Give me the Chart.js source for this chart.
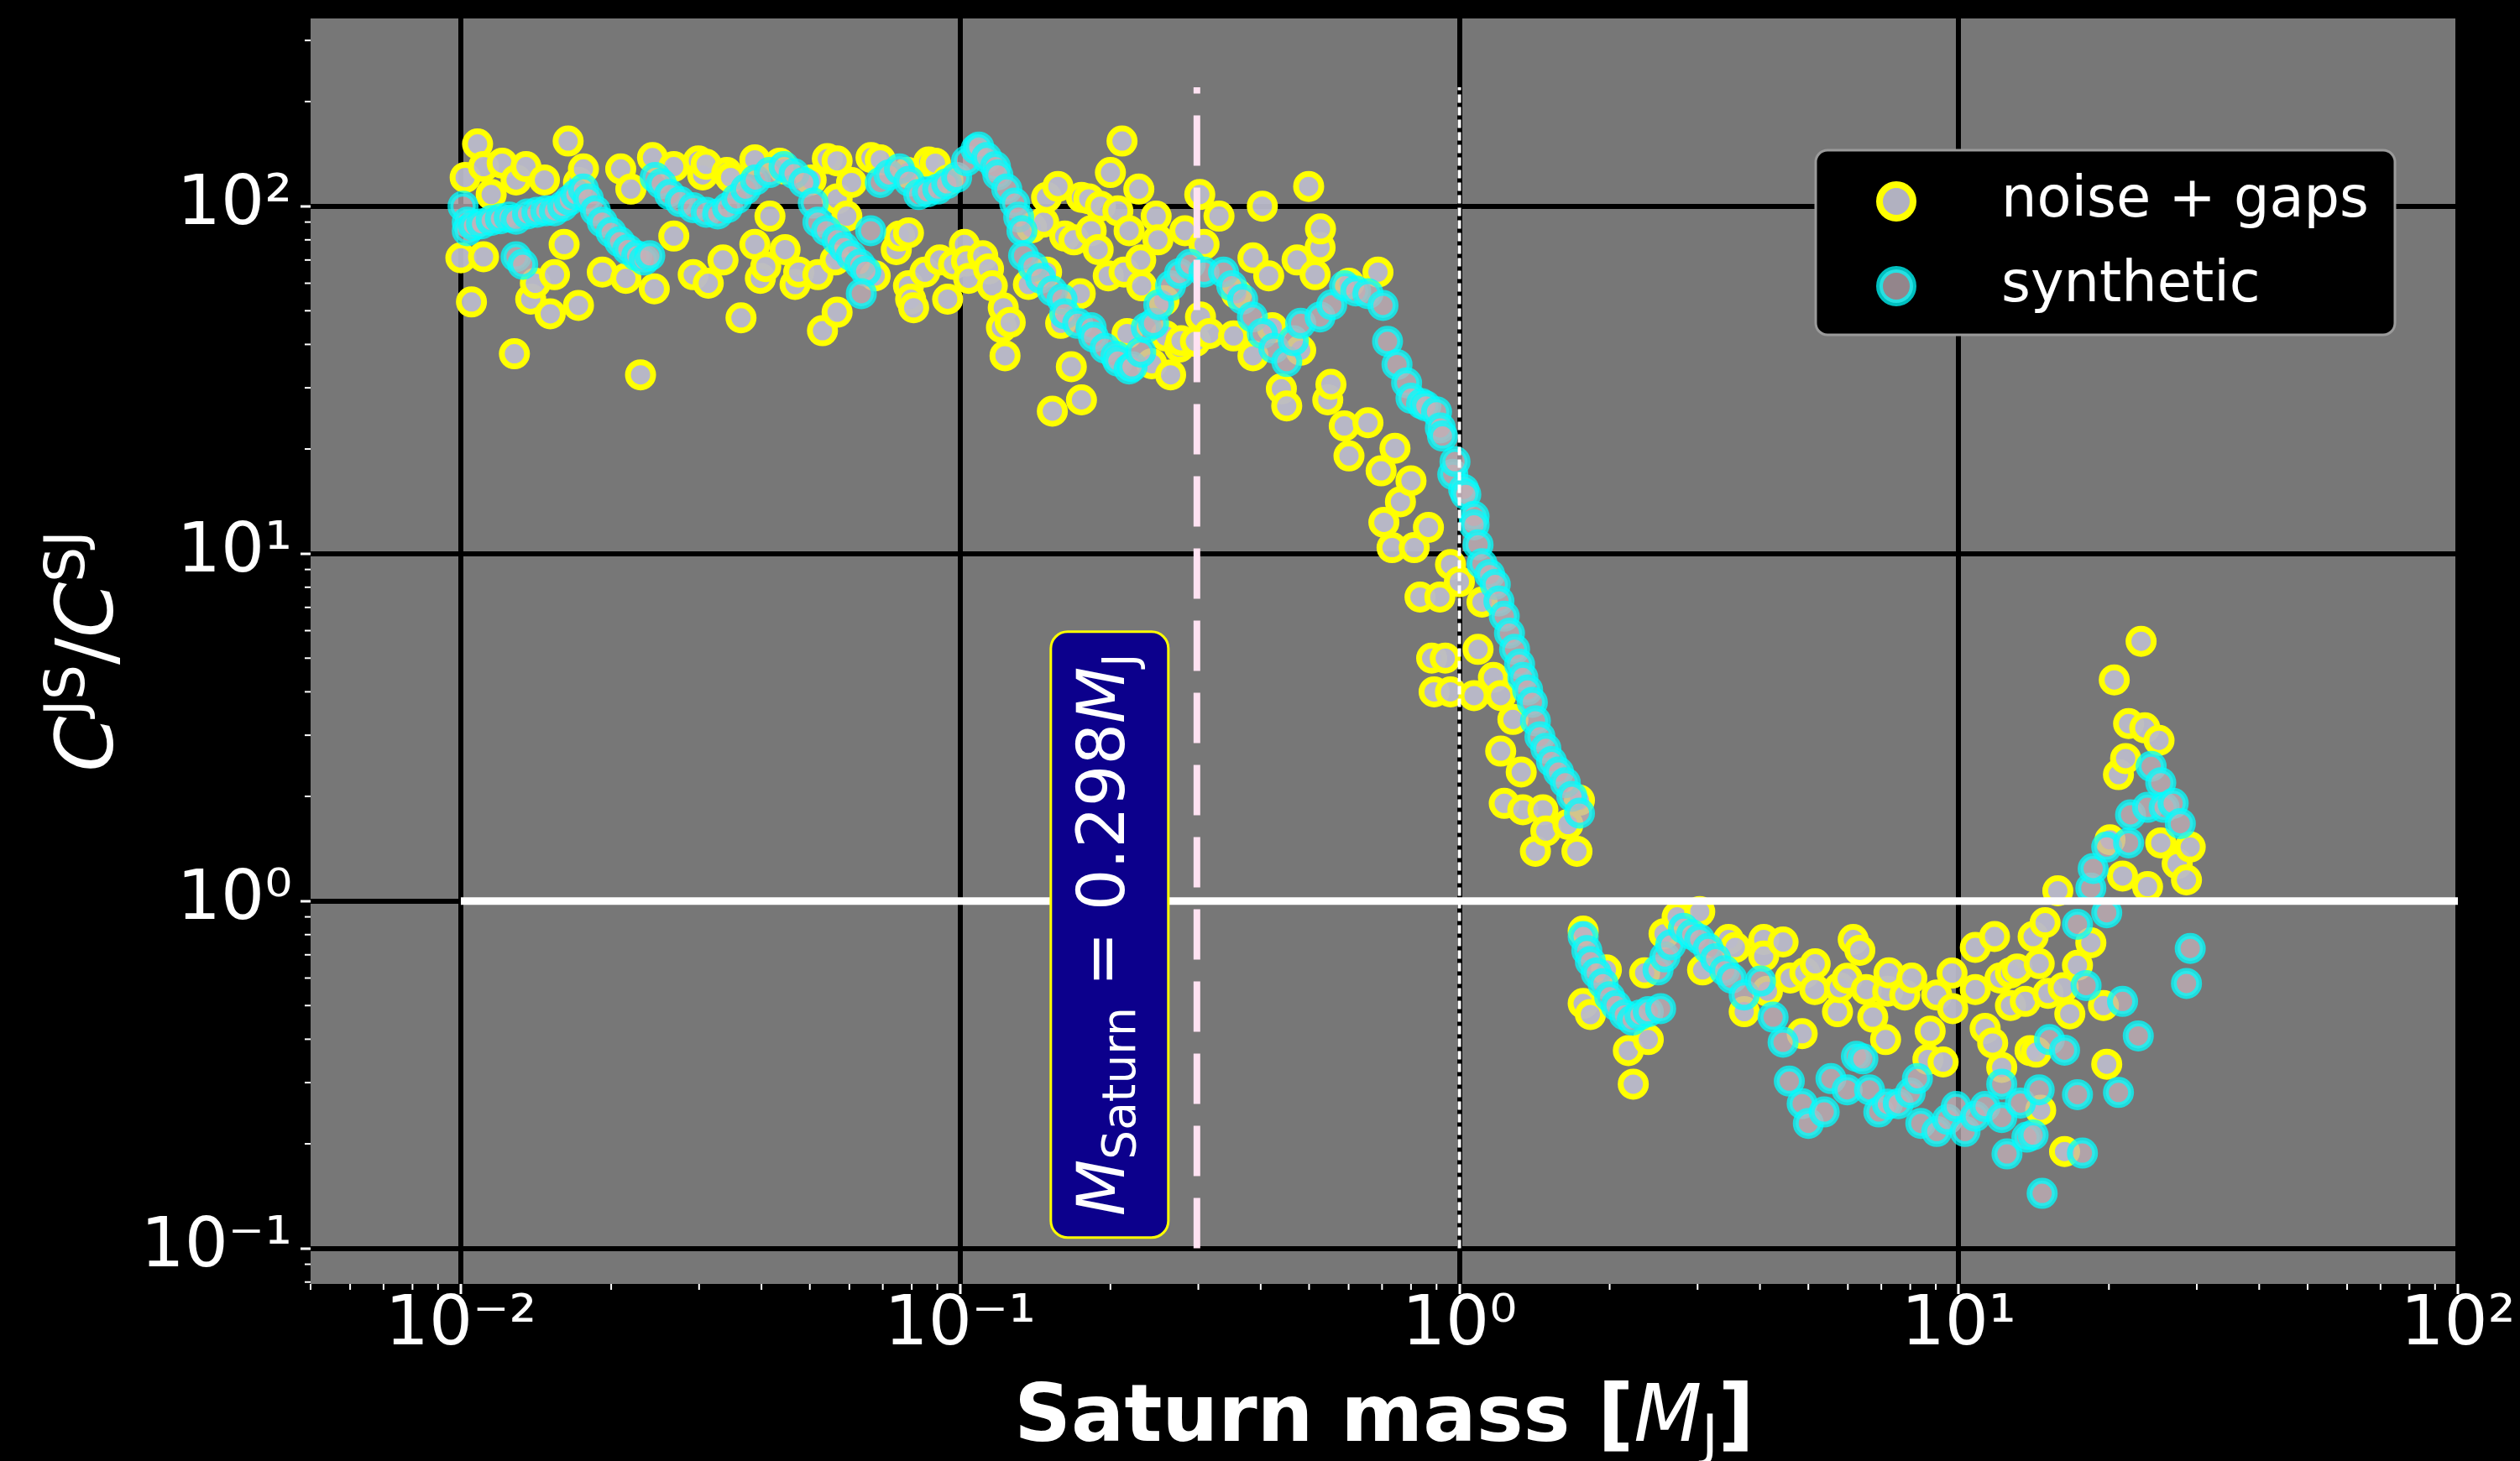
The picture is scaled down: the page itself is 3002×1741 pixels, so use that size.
<!DOCTYPE html>
<html>
<head>
<meta charset="utf-8">
<title>C^JS / C^SJ vs Saturn mass</title>
<script src="https://cdn.jsdelivr.net/npm/chart.js@4.4.0/dist/chart.umd.min.js"></script>
<style>
  html, body { margin: 0; padding: 0; background: #000; }
  #wrap { width: 3002px; height: 1741px; position: relative; }
</style>
</head>
<body>
<div id="wrap"><canvas id="ratioChart"></canvas></div>
<script>
// noise + gaps: Saturn mass [M_J] and C^JS/C^SJ
const noiseMass = [
  0.0100, 0.0102, 0.0105, 0.0108, 0.0111, 0.0111, 0.0115, 0.0121, 0.0128, 0.0129,
  0.0135, 0.0138, 0.0141, 0.0147, 0.0151, 0.0154, 0.0161, 0.0164, 0.0172, 0.0172,
  0.0176, 0.0192, 0.0209, 0.0214, 0.0219, 0.0229, 0.0242, 0.0244, 0.0267, 0.0267,
  0.0292, 0.0299, 0.0305, 0.0310, 0.0313, 0.0335, 0.0341, 0.0347, 0.0364, 0.0388,
  0.0388, 0.0398, 0.0408, 0.0416, 0.0435, 0.0444, 0.0446, 0.0467, 0.0475, 0.0503,
  0.0519, 0.0530, 0.0542, 0.0562, 0.0567, 0.0567, 0.0567, 0.0593, 0.0606, 0.0663,
  0.0676, 0.0692, 0.0745, 0.0756, 0.0785, 0.0788, 0.0788, 0.0796, 0.0807, 0.0850,
  0.0865, 0.0892, 0.0910, 0.0944, 0.0945, 0.0970, 0.102, 0.103, 0.104, 0.111,
  0.114, 0.116, 0.121, 0.122, 0.123, 0.126, 0.137, 0.139, 0.147, 0.149,
  0.149, 0.153, 0.157, 0.159, 0.162, 0.167, 0.169, 0.174, 0.175, 0.175,
  0.181, 0.183, 0.189, 0.191, 0.198, 0.200, 0.207, 0.211, 0.213, 0.216,
  0.218, 0.228, 0.230, 0.231, 0.242, 0.247, 0.249, 0.256, 0.258, 0.264,
  0.275, 0.277, 0.282, 0.296, 0.302, 0.303, 0.308, 0.316, 0.330, 0.353,
  0.358, 0.386, 0.386, 0.403, 0.415, 0.422, 0.440, 0.451, 0.473, 0.481,
  0.499, 0.514, 0.526, 0.527, 0.545, 0.553, 0.588, 0.601, 0.601, 0.656,
  0.687, 0.697, 0.706, 0.733, 0.743, 0.762, 0.800, 0.812, 0.834, 0.867,
  0.880, 0.890, 0.914, 0.937, 0.960, 0.960, 1.00, 1.07, 1.09, 1.11,
  1.17, 1.21, 1.21, 1.23, 1.28, 1.33, 1.34, 1.42, 1.47, 1.49,
  1.65, 1.72, 1.74, 1.77, 1.77, 1.83, 1.97, 2.18, 2.23, 2.35,
  2.39, 2.57, 2.73, 3.03, 3.07, 3.46, 3.57, 3.72, 4.07, 4.07,
  4.14, 4.45, 4.60, 4.86, 4.92, 5.15, 5.16, 5.72, 5.77, 5.98,
  6.15, 6.34, 6.53, 6.73, 7.14, 7.21, 7.25, 7.80, 8.06, 8.68,
  8.77, 9.04, 9.31, 9.70, 9.73, 10.8, 10.8, 11.3, 11.7, 11.8,
  12.1, 12.2, 12.7, 12.7, 13.1, 13.6, 13.9, 14.1, 14.3, 14.5,
  14.6, 14.9, 15.1, 15.8, 16.2, 16.3, 16.7, 17.3, 18.4, 19.5,
  19.8, 20.1, 20.5, 20.9, 21.3, 21.6, 21.9, 23.2, 23.6, 23.9, 25.2, 25.4, 27.4, 28.6, 29.1
];
const noiseRatio = [
  71, 121, 53, 151, 130, 71.5, 108, 133, 37.6, 119,
  130, 54, 60, 119, 49, 63.5, 77.6, 154, 117, 51.8,
  128, 64.6, 128, 62, 112, 32.7, 138, 57.8, 130, 82,
  63.5, 135, 123, 132, 60, 70, 125, 121, 47.7, 136,
  77.6, 62, 67, 93.6, 133, 128, 75, 59.5, 64.6, 119,
  63.5, 43.8, 137, 70, 135, 105, 49.5, 93.6, 117, 138,
  63, 136, 75, 82, 125, 83.8, 59, 54, 51, 64.6,
  134, 133, 70, 54, 119, 68, 77.6, 69.5, 62, 72,
  66, 59, 44.7, 51, 37.1, 46.3, 59.5, 86.7, 90, 106,
  64.6, 25.7, 114, 46, 82, 34.5, 80, 56, 106, 27.7,
  105, 85, 75, 100, 63, 125, 97, 154, 64.6, 43,
  85, 112, 70, 59, 35.2, 93.6, 80, 53.5, 42.3, 32.7,
  39.3, 41, 85, 40.8, 108, 48, 77.6, 43, 93.6, 42.3,
  56, 71, 37.1, 100, 63, 44.7, 29.8, 26.6, 70, 38.5,
  114, 63.5, 76, 86, 27.7, 30.7, 23.3, 60, 19.1, 23.8,
  64.6, 17.3, 12.3, 10.4, 20.1, 14.1, 16.2, 10.4, 7.5, 11.9,
  5.0, 4.0, 7.5, 5.0, 9.3, 4.0, 8.3, 3.9, 5.3, 7.25,
  4.4, 3.9, 2.70, 1.91, 3.33, 2.35, 1.83, 1.39, 1.83, 1.59,
  1.66, 1.39, 1.95, 0.819, 0.507, 0.471, 0.633, 0.371, 0.297, 0.621,
  0.399, 0.805, 0.90, 0.932, 0.633, 0.775, 0.735, 0.48, 0.775, 0.694,
  0.55, 0.762, 0.60, 0.415, 0.621, 0.556, 0.659, 0.48, 0.563, 0.599,
  0.775, 0.721, 0.556, 0.463, 0.399, 0.55, 0.621, 0.536, 0.60, 0.35,
  0.422, 0.536, 0.344, 0.62, 0.49, 0.556, 0.735, 0.43, 0.39, 0.79,
  0.60, 0.332, 0.621, 0.50, 0.637, 0.514, 0.371, 0.79, 0.367, 0.66,
  0.25, 0.866, 0.542, 1.07, 0.563, 0.19, 0.473, 0.653, 0.758, 0.50,
  0.339, 1.50, 4.33, 2.31, 1.18, 2.57, 3.24, 5.59, 3.15, 1.10, 2.90, 1.47, 1.28, 1.15, 1.43
];

// synthetic
const synthMass = [
  0.0101, 0.0103, 0.0103, 0.0106, 0.0110, 0.0115, 0.0120, 0.0125, 0.0129, 0.0129,
  0.0133, 0.0136, 0.0142, 0.0148, 0.0154, 0.0160, 0.0165, 0.0170, 0.0176, 0.0180,
  0.0186, 0.0192, 0.0200, 0.0208, 0.0216, 0.0225, 0.0233, 0.0239, 0.0245, 0.0252,
  0.0262, 0.0275, 0.0292, 0.0310, 0.0327, 0.0342, 0.0357, 0.0372, 0.0389, 0.0415,
  0.0444, 0.0465, 0.0486, 0.0508, 0.0519, 0.0540, 0.0567, 0.0585, 0.0605, 0.0630,
  0.0647, 0.0634, 0.0662, 0.0692, 0.0720, 0.0756, 0.0790, 0.0826, 0.0860, 0.0902,
  0.0940, 0.0984, 0.1030, 0.1076, 0.109, 0.113, 0.1177, 0.119, 0.124, 0.1286,
  0.131, 0.133, 0.134, 0.140, 0.145, 0.153, 0.160, 0.162, 0.172, 0.183,
  0.185, 0.195, 0.205, 0.207, 0.218, 0.221, 0.230, 0.236, 0.244, 0.250,
  0.264, 0.275, 0.289, 0.308, 0.337, 0.350, 0.368, 0.385, 0.403, 0.425,
  0.451, 0.465, 0.481, 0.526, 0.555, 0.589, 0.620, 0.656, 0.703, 0.718,
  0.750, 0.784, 0.800, 0.840, 0.857, 0.900, 0.916, 0.925, 0.970, 0.980,
  1.02, 1.03, 1.07, 1.07, 1.09, 1.11, 1.15, 1.18, 1.20, 1.23,
  1.26, 1.29, 1.32, 1.34, 1.37, 1.40, 1.42, 1.45, 1.49, 1.53,
  1.58, 1.63, 1.68, 1.74, 1.77, 1.80, 1.83, 1.88, 1.94, 2.00,
  2.06, 2.14, 2.22, 2.30, 2.39, 2.53, 2.50, 2.58, 2.65, 2.81,
  2.92, 3.03, 3.15, 3.26, 3.40, 3.51, 3.72, 4.01, 4.25, 4.45,
  4.58, 4.86, 5.00, 5.38, 5.55, 5.98, 6.24, 6.43, 6.63, 6.92,
  7.20, 7.57, 8.00, 8.27, 8.40, 9.04, 9.50, 9.89, 10.3, 10.8,
  11.3, 12.2, 12.2, 12.5, 13.3, 13.7, 14.1, 14.5, 14.7, 15.2,
  16.3, 17.3, 17.3, 17.7, 18.0, 18.4, 18.6, 19.8, 19.8, 20.9,
  21.3, 21.9, 22.1, 22.9, 23.9, 24.3, 25.4, 25.8, 26.9, 27.8, 28.6, 29.1
];
const synthRatio = [
  100, 90, 85, 88, 89, 91, 92, 93, 91.7, 71.5,
  68, 95, 96, 97, 97, 100, 104, 108, 112, 105,
  97, 90, 84, 79, 75, 72, 70, 72, 121, 116,
  108, 103, 99, 96, 95, 99, 105, 112, 119, 125,
  130, 124, 117, 102, 90, 85, 80, 76, 72, 68,
  65, 56, 85, 117, 123, 128, 118, 108, 110, 112,
  116, 121, 135, 146, 148, 138, 130, 123, 112, 102,
  93, 85, 72, 67, 62, 57, 54, 49, 46, 44.7,
  42, 39, 37, 35.8, 34, 34.5, 38, 44.7, 46, 52,
  59, 64, 68, 64.6, 64.6, 59, 54, 48, 43, 39,
  35.7, 41, 46, 48, 52, 59, 57, 56, 51.8, 40.8,
  35, 31, 28, 27, 26.6, 25.6, 23, 21.8, 16.9, 18.4,
  15.3, 14.8, 12.8, 12.1, 10.6, 9.35, 8.7, 8.15, 7.3, 6.6,
  5.9, 5.3, 4.8, 4.4, 4.05, 3.73, 3.3, 2.97, 2.75, 2.52,
  2.35, 2.19, 2.0, 1.79, 0.79, 0.72, 0.669, 0.62, 0.578, 0.53,
  0.50, 0.47, 0.454, 0.47, 0.48, 0.49, 0.633, 0.69, 0.747, 0.834,
  0.80, 0.775, 0.73, 0.682, 0.63, 0.599, 0.536, 0.588, 0.463, 0.392,
  0.303, 0.261, 0.229, 0.247, 0.308, 0.286, 0.357, 0.351, 0.286, 0.247,
  0.26, 0.261, 0.28, 0.308, 0.229, 0.217, 0.235, 0.256, 0.217, 0.24,
  0.256, 0.238, 0.297, 0.187, 0.262, 0.209, 0.212, 0.286, 0.144, 0.399,
  0.372, 0.277, 0.857, 0.188, 0.571, 1.09, 1.24, 0.925, 1.43, 0.281,
  0.514, 1.47, 1.77, 0.409, 1.86, 2.44, 2.19, 1.86, 1.91, 1.67, 0.579, 0.73
];

// axes
const xDecades = [0.001, 0.01, 0.1, 1, 10, 100];
const yDecades = [0.01, 0.1, 1, 10, 100];
const xRange = [0.005, 100];
const yRange = [0.079, 347];

// reference lines
const saturnMass = 0.298;
const jupiterMass = 1;
const unityRatio = 1;
const guideSpan = [0.1, 220];
const unitySpan = [0.01, 100];
const labelRatio = 0.8;

const FONT = '"DejaVu Sans"';

function isDecade(v) {
  if (!v) return false;
  const l = Math.log10(v);
  return Math.abs(l - Math.round(l)) < 1e-6;
}

const supMap = { '-': '\u207B', '0': '\u2070', '1': '\u00B9', '2': '\u00B2', '3': '\u00B3' };
function decadeLabel(v) {
  if (!isDecade(v)) return '';
  const e = String(Math.round(Math.log10(v)));
  return '10' + e.split('').map(c => supMap[c] || c).join('');
}

// decades plus 2..9 between them, inside the range
function tickValues(decades, range) {
  const out = [];
  decades.forEach(d => {
    for (let k = 1; k <= 9; k++) {
      const v = +(k * d).toPrecision(6);
      if (v >= range[0] * 0.999 && v <= range[1] * 1.001) out.push(v);
    }
  });
  return out;
}
const xTicks = tickValues(xDecades, xRange);
const yTicks = tickValues(yDecades, yRange);

const toPoints = (xs, ys) => xs.map((x, i) => ({ x, y: ys[i] }));

// draw text made of runs with different fonts / offsets
function drawRuns(ctx, runs, x, y) {
  let total = 0;
  runs.forEach(r => { ctx.font = r.font; r.w = ctx.measureText(r.text).width; total += r.w; });
  let cx = x - total / 2;
  runs.forEach(r => {
    ctx.font = r.font;
    ctx.fillText(r.text, cx, y + (r.dy || 0));
    cx += r.w;
  });
}

function roundBox(ctx, x, y, w, h, r) {
  ctx.beginPath();
  ctx.moveTo(x + r, y);
  ctx.arcTo(x + w, y, x + w, y + h, r);
  ctx.arcTo(x + w, y + h, x, y + h, r);
  ctx.arcTo(x, y + h, x, y, r);
  ctx.arcTo(x, y, x + w, y, r);
  ctx.closePath();
}

const decorations = {
  id: 'decorations',
  beforeDraw(chart) {
    const { ctx, chartArea: a } = chart;
    ctx.save();
    ctx.fillStyle = '#777777';
    ctx.fillRect(a.left, a.top, a.right - a.left, a.bottom - a.top);
    ctx.restore();
  },
  afterDatasetsDraw(chart) {
    const { ctx, chartArea: a, scales } = chart;

    // Saturn mass label box
    const bx = scales.x.getPixelForValue(saturnMass) - 104;
    const by = scales.y.getPixelForValue(labelRatio);
    ctx.save();
    roundBox(ctx, bx - 70, by - 361, 140, 722, 20);
    ctx.fillStyle = '#0c008c';
    ctx.fill();
    ctx.lineWidth = 3;
    ctx.strokeStyle = '#ffff00';
    ctx.stroke();
    ctx.translate(bx, by);
    ctx.rotate(-Math.PI / 2);
    ctx.fillStyle = '#ffffff';
    ctx.textBaseline = 'alphabetic';
    drawRuns(ctx, [
      { text: 'M', font: `italic 78px ${FONT}` },
      { text: 'Saturn', font: `55px ${FONT}`, dy: 13 },
      { text: ' = 0.298', font: `78px ${FONT}` },
      { text: 'M', font: `italic 78px ${FONT}` },
      { text: 'J', font: `55px ${FONT}`, dy: 13 }
    ], 0, 17);
    ctx.restore();

    // legend
    const lx = a.right - 765, ly = a.top + 157;
    ctx.save();
    roundBox(ctx, lx, ly, 690, 220, 14);
    ctx.fillStyle = '#000000';
    ctx.fill();
    ctx.lineWidth = 3;
    ctx.strokeStyle = '#9a9a9a';
    ctx.stroke();
    const rows = [chart.data.datasets[0], chart.data.datasets[1]];
    rows.forEach((ds, i) => {
      const my = ly + 61 + i * 101;
      ctx.beginPath();
      ctx.arc(lx + 96, my, 20, 0, Math.PI * 2);
      ctx.fillStyle = ds.pointBackgroundColor;
      ctx.fill();
      ctx.lineWidth = 8;
      ctx.strokeStyle = ds.pointBorderColor;
      ctx.stroke();
      ctx.fillStyle = '#ffffff';
      ctx.font = `67px ${FONT}`;
      ctx.textBaseline = 'alphabetic';
      ctx.fillText(ds.label, lx + 221, ly + 79 + i * 101);
    });
    ctx.restore();
  },
  afterDraw(chart) {
    const { ctx, chartArea: a, scales } = chart;
    ctx.save();
    // minor ticks
    ctx.strokeStyle = '#ffffff';
    ctx.lineWidth = 2;
    scales.x.ticks.forEach(t => {
      if (isDecade(t.value)) return;
      const px = scales.x.getPixelForValue(t.value);
      ctx.beginPath();
      ctx.moveTo(px, a.bottom);
      ctx.lineTo(px, a.bottom + 7);
      ctx.stroke();
    });
    scales.y.ticks.forEach(t => {
      if (isDecade(t.value)) return;
      const py = scales.y.getPixelForValue(t.value);
      ctx.beginPath();
      ctx.moveTo(a.left - 7, py);
      ctx.lineTo(a.left, py);
      ctx.stroke();
    });

    // axis titles
    ctx.fillStyle = '#ffffff';
    ctx.textBaseline = 'alphabetic';
    drawRuns(ctx, [
      { text: 'Saturn mass [', font: `bold 94px ${FONT}` },
      { text: 'M', font: `italic 94px ${FONT}` },
      { text: 'J', font: `66px ${FONT}`, dy: 16 },
      { text: ']', font: `bold 94px ${FONT}` }
    ], (a.left + a.right) / 2, 1717);

    ctx.translate(134, (a.top + a.bottom) / 2);
    ctx.rotate(-Math.PI / 2);
    drawRuns(ctx, [
      { text: 'C', font: `italic 95px ${FONT}` },
      { text: 'JS', font: `66px ${FONT}`, dy: -34 },
      { text: '/', font: `95px ${FONT}` },
      { text: 'C', font: `italic 95px ${FONT}` },
      { text: 'SJ', font: `66px ${FONT}`, dy: -34 }
    ], 0, 0);
    ctx.restore();
  }
};

const gridColor = c => (c.tick && isDecade(c.tick.value)) ? '#000000' : 'rgba(0,0,0,0)';
const tickMarkColor = c => (c.tick && isDecade(c.tick.value)) ? '#ffffff' : 'rgba(0,0,0,0)';

const ctx = document.getElementById('ratioChart');
new Chart(ctx, {
  type: 'scatter',
  data: {
    datasets: [
      {
        label: 'noise + gaps',
        data: toPoints(noiseMass, noiseRatio),
        pointRadius: 15,
        pointBorderWidth: 7,
        pointBackgroundColor: 'rgba(186,186,202,0.95)',
        pointBorderColor: '#ffff00',
        order: 3
      },
      {
        label: 'synthetic',
        data: toPoints(synthMass, synthRatio),
        pointRadius: 15,
        pointBorderWidth: 7,
        pointBackgroundColor: 'rgba(196,178,186,0.75)',
        pointBorderColor: 'rgba(0,255,255,0.75)',
        order: 2
      },
      {
        label: 'unity',
        data: [{ x: unitySpan[0], y: unityRatio }, { x: unitySpan[1], y: unityRatio }],
        showLine: true,
        pointRadius: 0,
        borderColor: '#ffffff',
        borderWidth: 9,
        order: 1
      },
      {
        label: 'Saturn mass',
        data: [{ x: saturnMass, y: guideSpan[0] }, { x: saturnMass, y: guideSpan[1] }],
        showLine: true,
        pointRadius: 0,
        borderColor: '#ffe2f2',
        borderWidth: 8,
        borderDash: [60, 26],
        order: 1
      },
      {
        label: 'Jupiter mass',
        data: [{ x: jupiterMass, y: guideSpan[0] }, { x: jupiterMass, y: guideSpan[1] }],
        showLine: true,
        pointRadius: 0,
        borderColor: '#ffffff',
        borderWidth: 4,
        borderDash: [10, 5],
        order: 1
      }
    ]
  },
  options: {
    responsive: true,
    maintainAspectRatio: false,
    devicePixelRatio: 1,
    animation: false,
    events: [],
    layout: { padding: { left: 0, right: 74, top: 16, bottom: 0 } },
    plugins: {
      legend: { display: false },
      tooltip: { enabled: false }
    },
    scales: {
      x: {
        type: 'logarithmic',
        min: xRange[0],
        max: xRange[1],
        afterBuildTicks: scale => { scale.ticks = xTicks.map(v => ({ value: v })); },
        afterFit: scale => { scale.height = 211; scale.paddingLeft = 0; scale.paddingRight = 0; },
        border: { display: false },
        grid: {
          color: gridColor,
          lineWidth: 6,
          tickColor: tickMarkColor,
          tickLength: 12,
          tickWidth: 3
        },
        ticks: {
          autoSkip: false,
          maxRotation: 0,
          minRotation: 0,
          padding: -10,
          color: '#ffffff',
          font: { family: 'DejaVu Sans', size: 82 },
          callback: v => decadeLabel(v)
        }
      },
      y: {
        type: 'logarithmic',
        min: yRange[0],
        max: yRange[1],
        afterBuildTicks: scale => { scale.ticks = yTicks.map(v => ({ value: v })); },
        afterFit: scale => { scale.width = 370; scale.paddingTop = 0; scale.paddingBottom = 0; },
        border: { display: false },
        grid: {
          color: gridColor,
          lineWidth: 6,
          tickColor: tickMarkColor,
          tickLength: 12,
          tickWidth: 3
        },
        ticks: {
          autoSkip: false,
          padding: 10,
          color: '#ffffff',
          font: { family: 'DejaVu Sans', size: 82 },
          callback: v => decadeLabel(v)
        }
      }
    }
  },
  plugins: [decorations]
});
</script>
</body>
</html>
